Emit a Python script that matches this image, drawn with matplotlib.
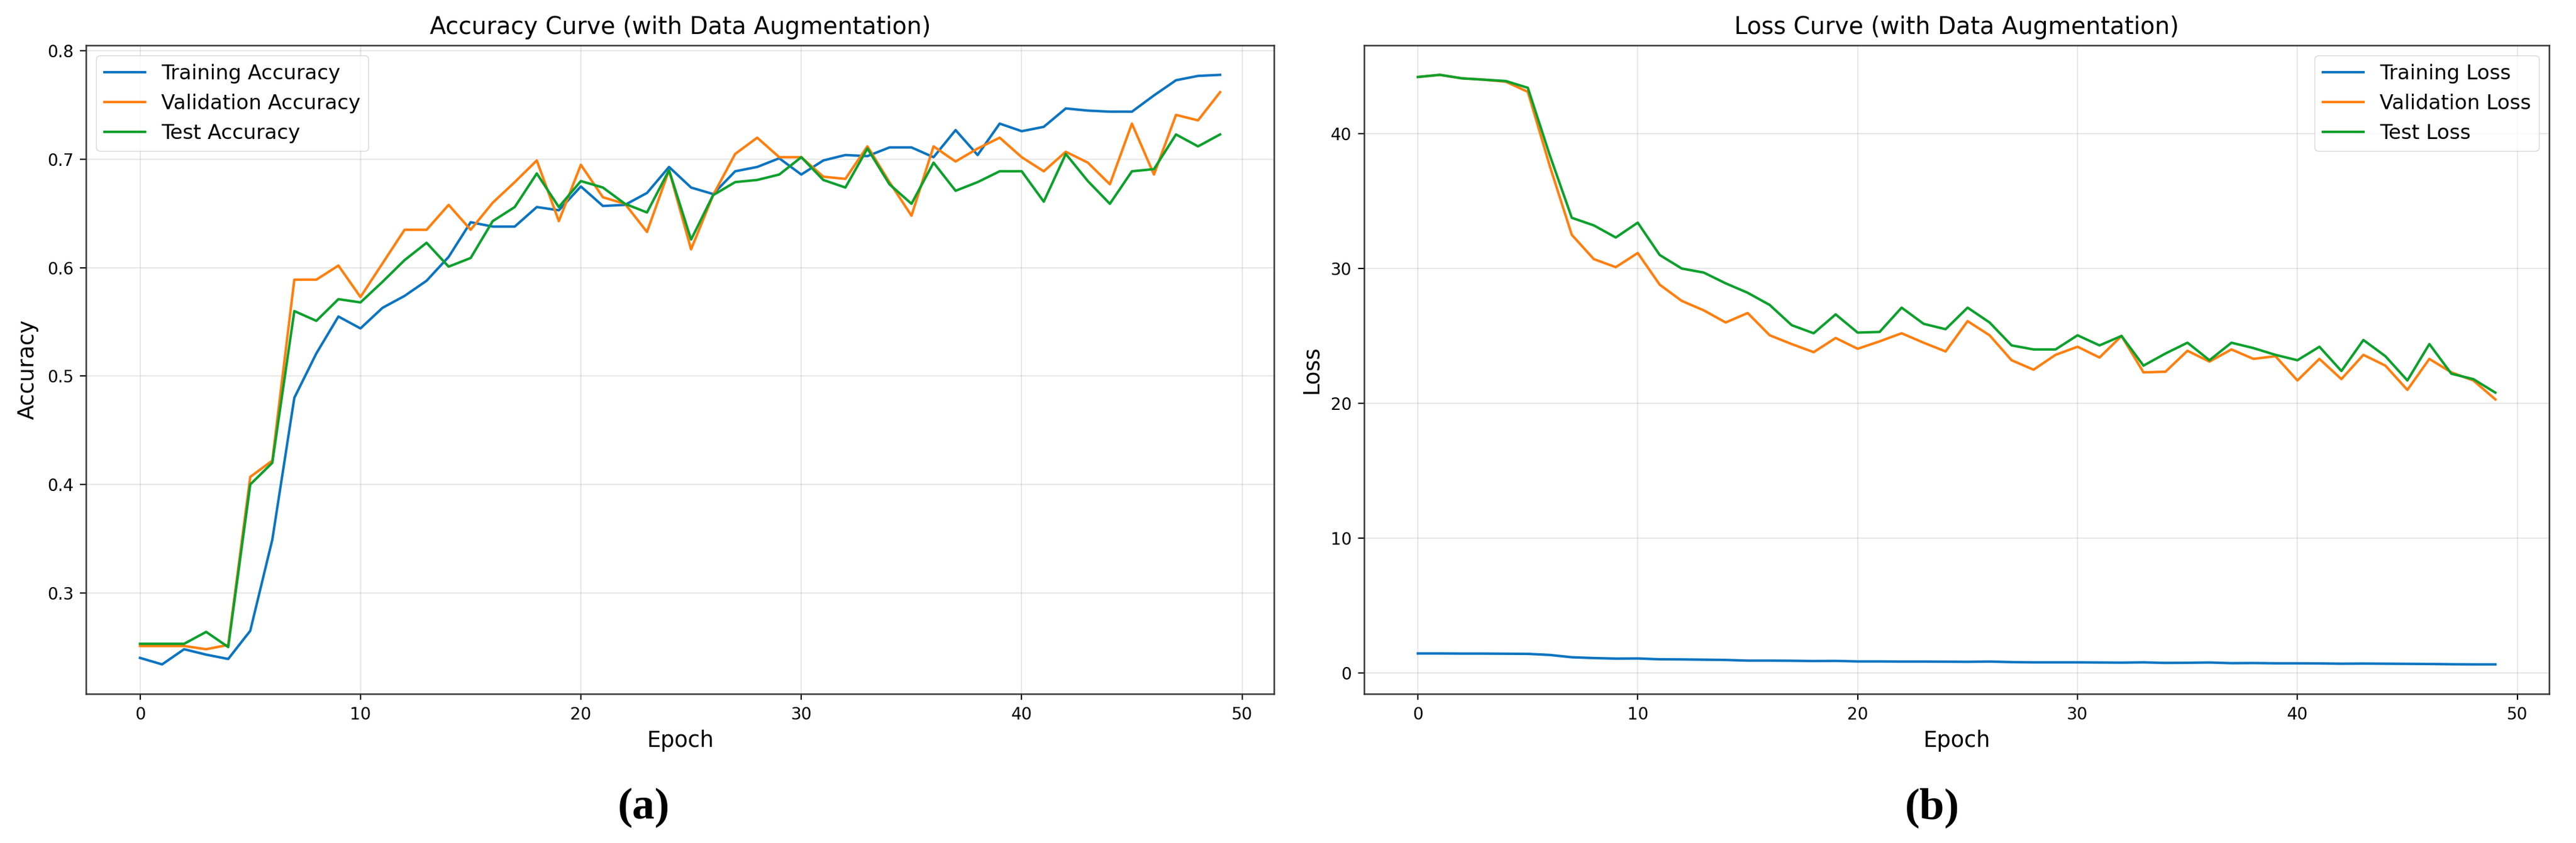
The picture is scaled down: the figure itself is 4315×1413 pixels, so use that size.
import numpy as np
import matplotlib
matplotlib.use('Agg')
import matplotlib.pyplot as plt

epochs = np.arange(50)

train_acc = [0.240, 0.234, 0.248, 0.243, 0.239, 0.265, 0.349, 0.480, 0.521, 0.555,
             0.544, 0.563, 0.574, 0.588, 0.610, 0.642, 0.638, 0.638, 0.656, 0.653,
             0.675, 0.657, 0.658, 0.669, 0.693, 0.674, 0.668, 0.689, 0.693, 0.701,
             0.686, 0.699, 0.704, 0.703, 0.711, 0.711, 0.702, 0.727, 0.704, 0.733,
             0.726, 0.730, 0.747, 0.745, 0.744, 0.744, 0.759, 0.773, 0.777, 0.778]
val_acc = [0.251, 0.251, 0.251, 0.248, 0.252, 0.407, 0.422, 0.589, 0.589, 0.602,
           0.573, 0.604, 0.635, 0.635, 0.658, 0.635, 0.660, 0.679, 0.699, 0.643,
           0.695, 0.665, 0.659, 0.633, 0.690, 0.617, 0.667, 0.705, 0.720, 0.702,
           0.702, 0.684, 0.682, 0.712, 0.679, 0.648, 0.712, 0.698, 0.710, 0.720,
           0.702, 0.689, 0.707, 0.697, 0.677, 0.733, 0.686, 0.741, 0.736, 0.762]
test_acc = [0.253, 0.253, 0.253, 0.264, 0.250, 0.400, 0.420, 0.560, 0.551, 0.571,
            0.568, 0.587, 0.607, 0.623, 0.601, 0.609, 0.643, 0.656, 0.687, 0.656,
            0.680, 0.674, 0.659, 0.651, 0.690, 0.626, 0.667, 0.679, 0.681, 0.686,
            0.702, 0.681, 0.674, 0.710, 0.677, 0.659, 0.697, 0.671, 0.679, 0.689,
            0.689, 0.661, 0.705, 0.680, 0.659, 0.689, 0.691, 0.723, 0.712, 0.723]

train_loss = [1.46, 1.46, 1.45, 1.45, 1.44, 1.43, 1.35, 1.18, 1.12, 1.08,
              1.09, 1.03, 1.02, 1.00, 0.98, 0.93, 0.93, 0.92, 0.90, 0.91,
              0.87, 0.87, 0.86, 0.86, 0.85, 0.84, 0.86, 0.82, 0.80, 0.80,
              0.80, 0.79, 0.78, 0.80, 0.76, 0.77, 0.79, 0.74, 0.75, 0.73,
              0.73, 0.72, 0.70, 0.71, 0.70, 0.69, 0.68, 0.66, 0.65, 0.65]
val_loss = [44.2, 44.36, 44.1, 44.0, 43.85, 43.1, 37.6, 32.5, 30.7, 30.1,
            31.15, 28.8, 27.6, 26.9, 26.0, 26.7, 25.05, 24.4, 23.8, 24.85,
            24.05, 24.6, 25.2, 24.5, 23.85, 26.1, 25.05, 23.2, 22.5, 23.6,
            24.2, 23.4, 25.0, 22.3, 22.35, 23.9, 23.1, 24.0, 23.3, 23.5,
            21.7, 23.3, 21.8, 23.6, 22.8, 21.0, 23.3, 22.3, 21.7, 20.3]
test_loss = [44.2, 44.36, 44.1, 44.0, 43.9, 43.4, 38.4, 33.76, 33.2, 32.3,
             33.4, 31.0, 30.0, 29.7, 28.9, 28.2, 27.3, 25.8, 25.2, 26.6,
             25.25, 25.3, 27.1, 25.9, 25.5, 27.1, 26.0, 24.3, 24.0, 24.0,
             25.05, 24.3, 25.0, 22.8, 23.7, 24.5, 23.2, 24.5, 24.1, 23.6,
             23.2, 24.2, 22.4, 24.7, 23.5, 21.7, 24.4, 22.2, 21.8, 20.8]

c_blue = '#0b74c0'
c_orange = '#ff7f0e'
c_green = '#0ca02c'

fig = plt.figure(figsize=(43.15, 14.13), dpi=100)
ax1 = fig.add_axes([0.0334, 0.1769, 0.4612, 0.7693])
ax2 = fig.add_axes([0.5295, 0.1769, 0.4601, 0.7693])


def style_axis(ax, title, ylabel):
    ax.set_title(title, fontsize=28.5, pad=14)
    ax.set_xlabel('Epoch', fontsize=26.5, labelpad=8)
    ax.set_ylabel(ylabel, fontsize=26.5, labelpad=10)
    ax.grid(True, alpha=0.3, linewidth=1.5)
    ax.tick_params(labelsize=20, length=7, width=1.6, pad=8)
    for s in ax.spines.values():
        s.set_linewidth(1.8)
        s.set_color('#333333')


ax1.plot(epochs, train_acc, color=c_blue, linewidth=3, label='Training Accuracy')
ax1.plot(epochs, val_acc, color=c_orange, linewidth=3, label='Validation Accuracy')
ax1.plot(epochs, test_acc, color=c_green, linewidth=3, label='Test Accuracy')
style_axis(ax1, 'Accuracy Curve (with Data Augmentation)', 'Accuracy')
ax1.set_yticks([0.3, 0.4, 0.5, 0.6, 0.7, 0.8])
ax1.legend(loc='upper left', fontsize=24.5)

ax2.plot(epochs, train_loss, color=c_blue, linewidth=3, label='Training Loss')
ax2.plot(epochs, val_loss, color=c_orange, linewidth=3, label='Validation Loss')
ax2.plot(epochs, test_loss, color=c_green, linewidth=3, label='Test Loss')
style_axis(ax2, 'Loss Curve (with Data Augmentation)', 'Loss')
ax2.legend(loc='upper right', fontsize=24.5)

fig.text(0.25, 0.0418, '(a)', fontfamily='Liberation Serif', fontweight='bold',
         fontsize=54, ha='center', va='center')
fig.text(0.75, 0.0418, '(b)', fontfamily='Liberation Serif', fontweight='bold',
         fontsize=54, ha='center', va='center')

fig.savefig('out.png', dpi=100)
